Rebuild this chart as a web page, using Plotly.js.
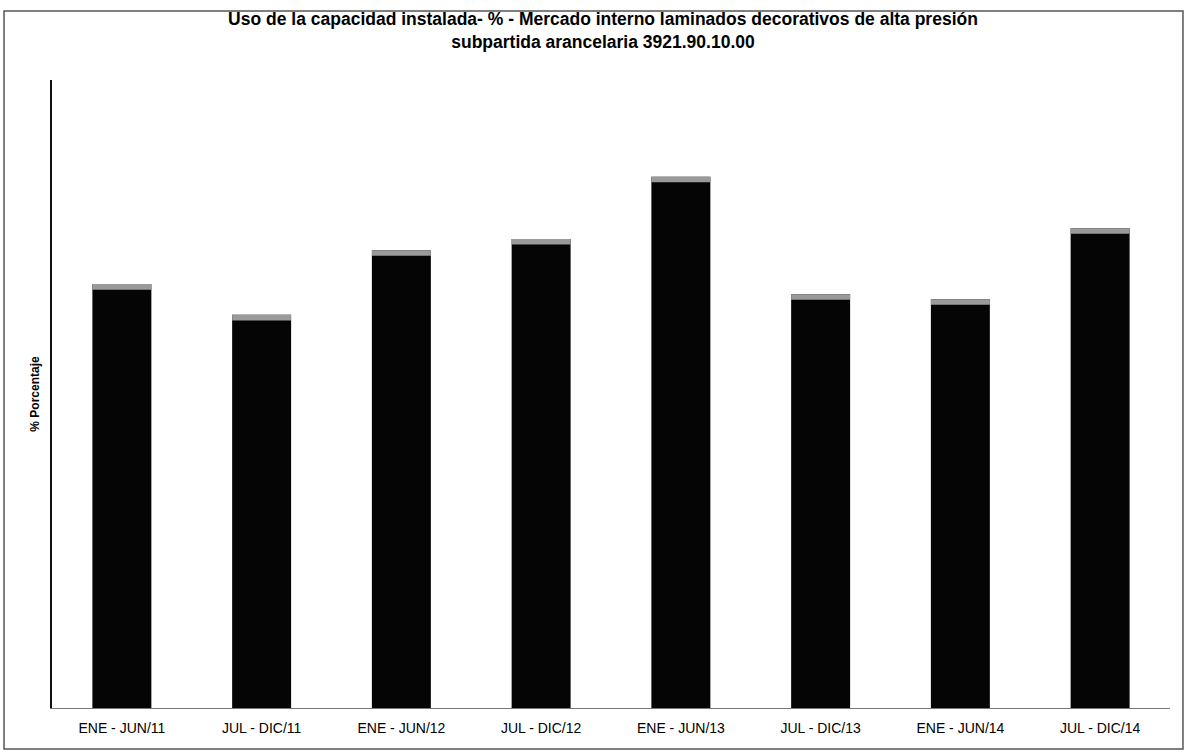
<!DOCTYPE html>
<html>
<head>
<meta charset="utf-8">
<script src="https://cdn.plot.ly/plotly-3.0.1.min.js"></script>
<style>html,body{margin:0;padding:0;background:#fff;}#chart{width:1187px;height:753px;}</style>
</head>
<body>
<div id="chart"></div>
<script>
const categories = ["ENE - JUN/11", "JUL - DIC/11", "ENE - JUN/12", "JUL - DIC/12", "ENE - JUN/13", "JUL - DIC/13", "ENE - JUN/14", "JUL - DIC/14"];
const usoCapacidad = [67.5, 62.6, 72.9, 74.7, 84.6, 65.9, 65.1, 76.4];
const chartTitle = "Uso de la capacidad instalada- % - Mercado interno laminados decorativos de alta presión<br>subpartida arancelaria 3921.90.10.00";
const yTitle = "% Porcentaje";

const capH = 0.9;
const traces = [
  {type: "bar", x: categories, y: usoCapacidad, marker: {color: "#050505", line: {width: 0}}, hoverinfo: "x+y"},
  {type: "bar", x: categories, y: usoCapacidad.map(() => capH), base: usoCapacidad.map(v => v - capH),
   marker: {color: "#9a9a9a", line: {width: 0}}, hoverinfo: "skip"}
];

const layout = {
  width: 1187, height: 753,
  margin: {l: 52, r: 17, t: 80, b: 45, pad: 0},
  paper_bgcolor: "#ffffff", plot_bgcolor: "#ffffff",
  barmode: "overlay", bargap: 0.578,
  showlegend: false,
  font: {family: "Liberation Sans, Arial, sans-serif", color: "#000"},
  title: {text: "<b>" + chartTitle + "</b>", font: {size: 17.5, color: "#000", family: "Liberation Sans, Arial, sans-serif"},
          x: 0.508, xref: "container", xanchor: "center", y: 1, yref: "paper", yanchor: "bottom", pad: {b: 55}},
  xaxis: {type: "category", showgrid: false, zeroline: false, showline: true, linecolor: "#777", linewidth: 1,
          ticks: "", tickfont: {size: 14, color: "#000"}, ticklabelstandoff: 7, fixedrange: true},
  yaxis: {range: [0, 100], showgrid: false, zeroline: false, showline: true, linecolor: "#111", linewidth: 2,
          showticklabels: false, ticks: "", automargin: false,
          title: {text: "<b>" + yTitle + "</b>", font: {size: 12, color: "#000"}, standoff: 8}},
  shapes: [
    {type: "rect", xref: "paper", yref: "paper", x0: -0.0429, x1: 1.0116, y0: -0.0653, y1: 1.1099,
     line: {color: "#555", width: 1.5}, fillcolor: "rgba(0,0,0,0)"}
  ]
};

Plotly.newPlot("chart", traces, layout, {displayModeBar: false, staticPlot: true});
</script>
</body>
</html>
